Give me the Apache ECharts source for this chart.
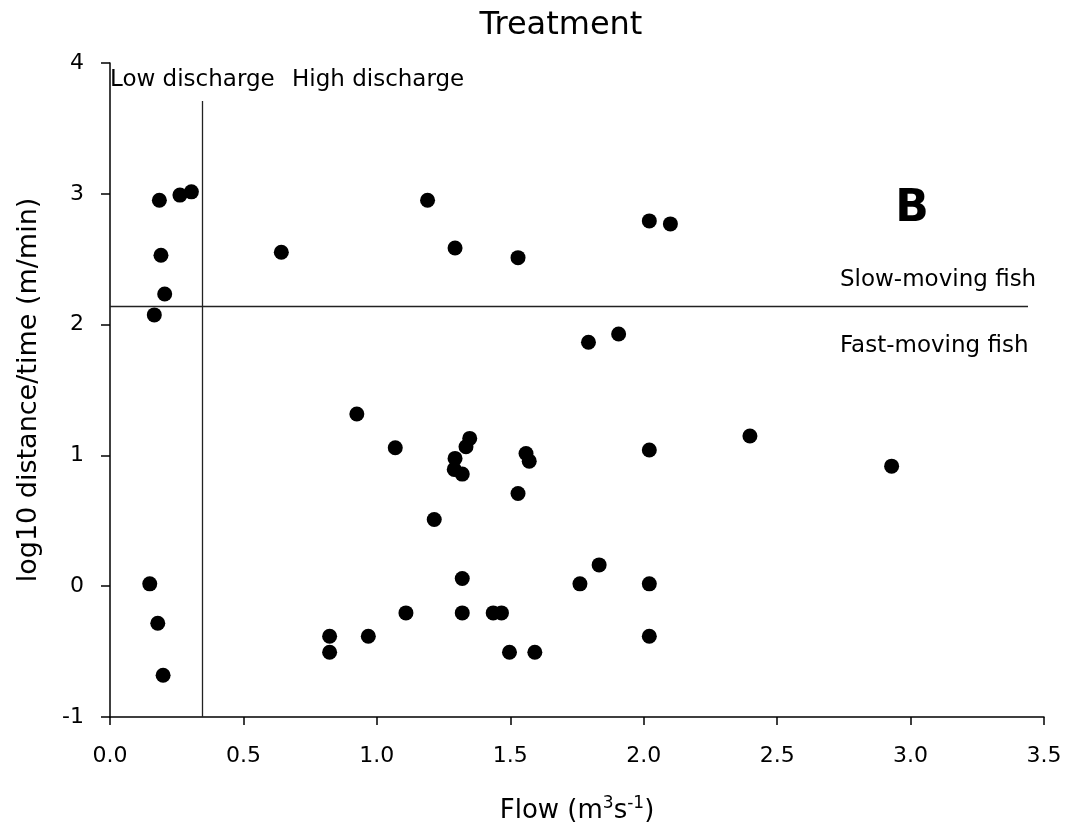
<!DOCTYPE html>
<html>
<head>
<meta charset="utf-8">
<script src="https://cdn.jsdelivr.net/npm/echarts@6/dist/echarts.min.js"></script>
<style>
html,body{margin:0;padding:0;background:#fff;}
#chart{width:1068px;height:832px;}
</style>
</head>
<body>
<div id="chart"></div>
<script>
// Flow (m3 s-1) for each fish
const flow = [
  0.185, 0.262, 0.305, 0.191, 0.205, 0.166, 0.149, 0.179, 0.199,
  0.642, 1.190, 1.293, 1.529, 2.021, 2.100, 1.793, 1.906,
  0.925, 1.069, 1.348, 1.334, 1.293, 1.290, 1.320, 1.559, 1.571, 2.021, 2.398, 2.929, 1.529, 1.215,
  1.320, 1.833, 1.761, 2.021, 1.109, 1.320, 1.436, 1.467,
  0.823, 0.968, 2.021, 0.823, 1.497, 1.592
];
// log10 distance/time (m/min) for each fish
const speed = [
  2.951, 2.990, 3.015, 2.530, 2.234, 2.074, 0.018, -0.283, -0.681,
  2.553, 2.951, 2.586, 2.512, 2.793, 2.770, 1.865, 1.928,
  1.316, 1.058, 1.130, 1.066, 0.977, 0.893, 0.857, 1.015, 0.956, 1.041, 1.148, 0.918, 0.709, 0.510,
  0.059, 0.163, 0.018, 0.018, -0.204, -0.204, -0.204, -0.204,
  -0.383, -0.383, -0.383, -0.505, -0.505, -0.505
];
const xTicks = ['0.0', '0.5', '1.0', '1.5', '2.0', '2.5', '3.0', '3.5'];
const yTicks = ['-1', '0', '1', '2', '3', '4'];
const dischargeThreshold = 0.345;   // low / high discharge boundary
const dischargeLineTop = 3.71;
const speedThreshold = 2.14;        // slow / fast moving boundary
const speedLineStart = 0;
const speedLineEnd = 3.44;

const FONT = 'DejaVu Sans';
const points = flow.map((f, i) => [f, speed[i]]);

const chart = echarts.init(document.getElementById('chart'), null, {renderer: 'canvas'});
chart.setOption({
  backgroundColor: '#fff',
  animation: false,
  grid: {left: 110, right: 24, top: 63, bottom: 115, containLabel: false},
  xAxis: {
    type: 'value', min: 0, max: 3.5, interval: 0.5,
    name: 'Flow (m{sup|3}s{sup|-1})',
    nameLocation: 'middle', nameGap: 78,
    nameTextStyle: {
      fontFamily: FONT, fontSize: 26, color: '#000', lineHeight: 32,
      rich: {sup: {fontFamily: FONT, fontSize: 17, color: '#000', verticalAlign: 'top', lineHeight: 30}}
    },
    axisLine: {show: true, onZero: false, lineStyle: {color: '#000', width: 1.5}},
    axisTick: {show: true, length: 8, lineStyle: {color: '#000', width: 1.5}},
    axisLabel: {
      margin: 28, fontFamily: FONT, fontSize: 22, color: '#000',
      formatter: v => xTicks[Math.round(v / 0.5)]
    },
    splitLine: {show: false}
  },
  yAxis: {
    type: 'value', min: -1, max: 4, interval: 1,
    name: 'log10 distance/time (m/min)',
    nameLocation: 'middle', nameGap: 68,
    nameTextStyle: {fontFamily: FONT, fontSize: 27, color: '#000'},
    axisLine: {show: true, onZero: false, lineStyle: {color: '#000', width: 1.5}},
    axisTick: {show: true, length: 9, lineStyle: {color: '#000', width: 1.5}},
    axisLabel: {
      margin: 26, fontFamily: FONT, fontSize: 22, color: '#000',
      formatter: v => yTicks[Math.round(v + 1)]
    },
    splitLine: {show: false}
  },
  series: [
    {
      type: 'scatter',
      data: points,
      symbol: 'circle',
      symbolSize: 15,
      itemStyle: {color: '#000', opacity: 1},
      silent: true,
      clip: false,
      markLine: {
        silent: true,
        symbol: ['none', 'none'],
        label: {show: false},
        lineStyle: {color: '#222', width: 1.3, type: 'solid', opacity: 1},
        data: [
          [{coord: [dischargeThreshold, -1]}, {coord: [dischargeThreshold, dischargeLineTop]}],
          [{coord: [speedLineStart, speedThreshold]}, {coord: [speedLineEnd, speedThreshold]}]
        ]
      }
    }
  ],
  graphic: [
    {type: 'text', x: 561, y: 26, style: {text: 'Treatment', font: '32px "DejaVu Sans"', fill: '#000', align: 'center', verticalAlign: 'middle'}},
    {type: 'text', x: 110, y: 80, style: {text: 'Low discharge', font: '23px "DejaVu Sans"', fill: '#000', align: 'left', verticalAlign: 'middle'}},
    {type: 'text', x: 292, y: 80, style: {text: 'High discharge', font: '23px "DejaVu Sans"', fill: '#000', align: 'left', verticalAlign: 'middle'}},
    {type: 'text', x: 912, y: 210, style: {text: 'B', font: 'bold 44px "DejaVu Sans"', fill: '#000', align: 'center', verticalAlign: 'middle'}},
    {type: 'text', x: 840, y: 280, style: {text: 'Slow-moving fish', font: '23px "DejaVu Sans"', fill: '#000', align: 'left', verticalAlign: 'middle'}},
    {type: 'text', x: 840, y: 346, style: {text: 'Fast-moving fish', font: '23px "DejaVu Sans"', fill: '#000', align: 'left', verticalAlign: 'middle'}}
  ]
});
</script>
</body>
</html>
